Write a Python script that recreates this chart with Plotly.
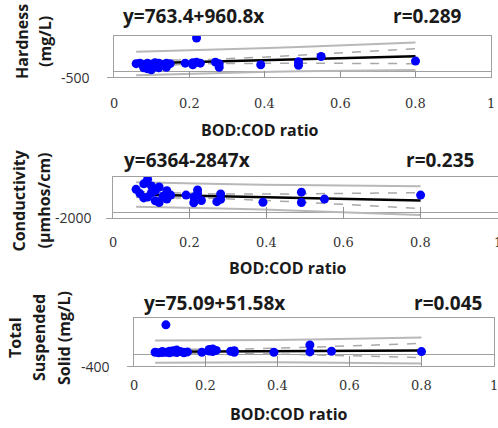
import numpy as np
import plotly.graph_objects as go

# ---------------- data ----------------
bod_cod = [0.06, 0.07, 0.08, 0.08, 0.09, 0.09, 0.10, 0.10, 0.11, 0.11,
           0.12, 0.12, 0.13, 0.14, 0.14, 0.15, 0.19, 0.21, 0.21, 0.22,
           0.22, 0.23, 0.27, 0.28, 0.28, 0.39, 0.49, 0.49, 0.55, 0.80]
hardness = [800, 850, 700, 400, 300, 850, 200, 750, 900, 500,
            850, 400, 700, 850, 450, 800, 850, 900, 700, 3300,
            950, 850, 950, 450, 800, 700, 1000, 650, 1500, 1050]
conductivity = [8000, 6500, 9900, 5000, 11500, 5300, 9200, 6800, 4000, 7500,
                8800, 3400, 5600, 7500, 4600, 6000, 6000, 3300, 5300, 7800,
                6500, 4100, 3700, 6400, 4500, 3500, 7000, 3400, 4600, 6000]
tss = [60, 40, 80, 50, 973, 60, 90, 40, 70, 110,
       130, 50, 80, 60, 40, 70, 60, 150, 100, 170,
       80, 120, 90, 110, 60, 60, 300, 70, 90, 80]

eq_text = ["y=763.4+960.8x", "y=6364-2847x", "y=75.09+51.58x"]
r_text = ["r=0.289", "r=0.235", "r=0.045"]
intercepts = [763.4, 6364.0, 75.09]
slopes = [960.8, -2847.0, 51.58]
ylabels = [["Hardness", "(mg/L)"], ["Conductivity", "(µmhos/cm)"],
           ["Total", "Suspended", "Solid (mg/L)"]]
ymins = [-500, -2000, -400]
ymaxs = [3500, 12400, 1200]
y_ticktext = ["-500", "-2000", "-400"]
x_ticks = [0, 0.2, 0.4, 0.6, 0.8, 1]
x_ticktext = ["0", "0.2", "0.4", "0.6", "0.8", "1"]
x_title = "BOD:COD ratio"
T_CRIT = 2.048  # t(0.975, n-2)

series = [hardness, conductivity, tss]

# ---------------- layout geometry (pixels) ----------------
W, H = 498, 428
def px(x): return x / W
def py(y): return 1 - y / H

boxes = [  # left, right (pixel of x=0 and x=1), top, bottom
    (113.5, 491.0, 36.0, 77.0),
    (113.0, 497.5, 176.7, 218.0),
    (133.5, 493.5, 318.0, 366.0),
]
title_y = [16, 160, 303]
eq_x = [122, 123, 143]          # left edge of equation text
r_right = [463, 475, 483]       # right edge of r text
xtitle_pos = [(260, 130), (288, 268), (289, 414)]
ylab_x = [[22, 45], [18.5, 43.5], [15, 39, 64]]
ylab_y = [42, 201, 338]
ticklen_x = [6, 11, 10]
xlab_y = [103, 242, 385]        # centre of x tick labels
ylab_right = [91, 93, 111]      # right edge of y tick label

fig = go.Figure()
annotations = []
layout = {}
dark = "#1a1a1a"

for i in range(3):
    sfx = "" if i == 0 else str(i + 1)
    xa, ya = "x" + sfx, "y" + sfx
    x = np.array(bod_cod, dtype=float)
    y = np.array(series[i], dtype=float)
    a, b = intercepts[i], slopes[i]
    n = len(x)
    xb = x.mean()
    sxx = ((x - xb) ** 2).sum()
    s = np.sqrt(((y - (a + b * x)) ** 2).sum() / (n - 2))
    xs = np.unique(x)
    fit = a + b * xs
    ci = T_CRIT * s * np.sqrt(1 / n + (xs - xb) ** 2 / sxx)
    pi = T_CRIT * s * np.sqrt(1 + 1 / n + (xs - xb) ** 2 / sxx)

    for yy in (fit + pi, fit - pi):
        fig.add_trace(go.Scatter(x=xs, y=yy, mode="lines", xaxis=xa, yaxis=ya,
                                 line=dict(color="#b8b8b8", width=2),
                                 showlegend=False, hoverinfo="skip"))
    for yy in (fit + ci, fit - ci):
        fig.add_trace(go.Scatter(x=xs, y=yy, mode="lines", xaxis=xa, yaxis=ya,
                                 line=dict(color="#a8a8a8", width=1.5, dash="dash"),
                                 showlegend=False, hoverinfo="skip"))
    fig.add_trace(go.Scatter(x=xs, y=fit, mode="lines", xaxis=xa, yaxis=ya,
                             line=dict(color="black", width=2.5),
                             showlegend=False))
    fig.add_trace(go.Scatter(x=x, y=y, mode="markers", xaxis=xa, yaxis=ya,
                             marker=dict(color="#0000ff", size=9),
                             showlegend=False))

    l, r, t, btm = boxes[i]
    layout["xaxis" + sfx] = dict(
        domain=[px(l), min(1.0, px(r))], range=[0, 1], anchor=ya,
        showline=True, mirror=True, linecolor="#a0a0a0", linewidth=1,
        ticks="inside", ticklen=ticklen_x[i], tickcolor="#909090",
        tickvals=x_ticks, showticklabels=False,
        showgrid=False, zeroline=False, fixedrange=True)
    layout["yaxis" + sfx] = dict(
        domain=[py(btm), py(t)], range=[ymins[i], ymaxs[i]], anchor=xa,
        showline=True, mirror=True, linecolor="#a0a0a0", linewidth=1,
        ticks="outside", ticklen=6, tickcolor="#a0a0a0",
        tickvals=[ymins[i]], showticklabels=False, showgrid=False,
        zeroline=True, zerolinecolor="#a0a0a0", zerolinewidth=1, fixedrange=True)

    # x tick labels (placed on the x scale)
    for v, txt in zip(x_ticks, x_ticktext):
        annotations.append(dict(text=txt, x=v, xref=xa, y=py(xlab_y[i]), yref="paper",
                                xanchor="center", yanchor="middle", showarrow=False,
                                borderpad=0,
                                font=dict(family="DejaVu Serif", size=13, color="#333333")))
    # y tick label at the axis minimum (placed on the y scale)
    annotations.append(dict(text=y_ticktext[i], x=px(ylab_right[i]), xref="paper",
                            y=ymins[i], yref=ya, xanchor="right", yanchor="middle",
                            showarrow=False, borderpad=0,
                            font=dict(family="Open Sans", size=14, color="#333333")))

    tf = dict(family="Open Sans", size=19, color=dark)
    annotations.append(dict(text="<b>%s</b>" % eq_text[i], x=px(eq_x[i]), y=py(title_y[i]),
                            xref="paper", yref="paper", xanchor="left", yanchor="middle",
                            showarrow=False, font=tf, borderpad=0))
    annotations.append(dict(text="<b>%s</b>" % r_text[i], x=px(r_right[i]), y=py(title_y[i]),
                            xref="paper", yref="paper", xanchor="right", yanchor="middle",
                            showarrow=False, font=tf, borderpad=0))
    annotations.append(dict(text="<b>%s</b>" % x_title, x=px(xtitle_pos[i][0]),
                            y=py(xtitle_pos[i][1]), xref="paper", yref="paper",
                            xanchor="center", yanchor="middle", showarrow=False,
                            font=dict(family="Open Sans", size=16, color=dark)))
    for j, lab in enumerate(ylabels[i]):
        annotations.append(dict(text="<b>%s</b>" % lab, x=px(ylab_x[i][j]), y=py(ylab_y[i]),
                                xref="paper", yref="paper", xanchor="center",
                                yanchor="middle", textangle=-90, showarrow=False,
                                font=dict(family="Open Sans", size=16, color=dark)))

fig.update_layout(
    width=W, height=H, autosize=False,
    margin=dict(l=0, r=0, t=0, b=0),
    paper_bgcolor="white", plot_bgcolor="white",
    annotations=annotations, showlegend=False, **layout)

fig.write_html("out.html",
               config={"displayModeBar": False, "staticPlot": True},
               post_script="document.body.style.margin='0';"
                           "document.body.style.overflow='hidden';")
